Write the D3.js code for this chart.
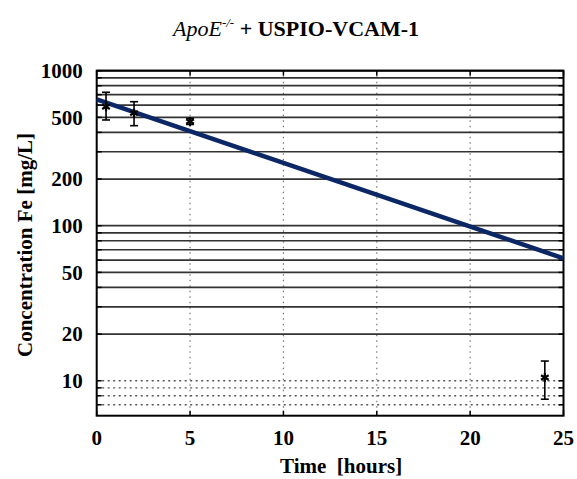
<!DOCTYPE html>
<html>
<head>
<meta charset="utf-8">
<script src="https://cdn.jsdelivr.net/npm/d3@7"></script>
<style>
  body { margin: 0; background: #fff; }
  text { font-family: "Liberation Serif", "Times New Roman", serif; }
</style>
</head>
<body>
<svg id="drawing_region"></svg>
<script>
// measured samples (time in hours, Fe concentration in mg/L)
const sampleTimes = [0.5, 2, 5, 24];
const sampleMeans = [585, 533, 470, 10.5];
const sampleLow   = [481, 442, 450, 7.6];
const sampleHigh  = [726, 631, 492, 13.4];

// fitted mono-exponential decay, end points
const fitTimes  = [0, 25];
const fitValues = [654, 61.6];

const xTicks = [0, 5, 10, 15, 20, 25];
const yTickLabels = [10, 20, 50, 100, 200, 500, 1000];
const solidGrid = [20, 30, 40, 50, 60, 70, 80, 90, 100, 200, 300, 400, 500, 600, 700, 800, 900, 1000];
const dottedGrid = [7, 8, 9, 10];
const xGrid = [5, 10, 15, 20];

class DecayPlot {
  constructor( config ) {
    this.config = config;
    this.init();
  }

  init() {
    let self = this;
    const m = self.config.margin;

    self.svg = d3.select( self.config.parent )
        .attr('width', self.config.width)
        .attr('height', self.config.height);

    self.inner_width = self.config.width - m.left - m.right;
    self.inner_height = self.config.height - m.top - m.bottom;

    self.chart = self.svg.append('g')
        .attr('transform', `translate(${m.left}, ${m.top})`);

    self.xscale = d3.scaleLinear()
        .domain([0, 25])
        .range([0, self.inner_width]);

    self.yscale = d3.scaleLog()
        .domain([5.95, 1000])
        .range([self.inner_height, 0]);
  }

  render() {
    let self = this;
    const W = self.inner_width, H = self.inner_height;
    const x = self.xscale, y = self.yscale;

    // vertical dotted grid
    self.chart.append('g').selectAll('line')
        .data(xGrid).join('line')
        .attr('x1', d => x(d)).attr('x2', d => x(d))
        .attr('y1', 0).attr('y2', H)
        .attr('stroke', '#777').attr('stroke-width', 1.2)
        .attr('stroke-dasharray', '1.5,4');

    // horizontal grid
    self.chart.append('g').selectAll('line')
        .data(solidGrid).join('line')
        .attr('x1', 0).attr('x2', W)
        .attr('y1', d => y(d)).attr('y2', d => y(d))
        .attr('stroke', '#333').attr('stroke-width', 1.7);

    self.chart.append('g').selectAll('line')
        .data(dottedGrid).join('line')
        .attr('x1', 0).attr('x2', W)
        .attr('y1', d => y(d)).attr('y2', d => y(d))
        .attr('stroke', '#555').attr('stroke-width', 1.3)
        .attr('stroke-dasharray', '2,3.5');

    // inner ticks on all four sides
    const allY = dottedGrid.concat(solidGrid);
    const tk = 5;
    const ticks = self.chart.append('g').attr('stroke', '#000').attr('stroke-width', 1.5);
    ticks.selectAll('.tl').data(allY).join('line')
        .attr('x1', 0).attr('x2', tk).attr('y1', d => y(d)).attr('y2', d => y(d));
    ticks.selectAll('.tr').data(allY).join('line')
        .attr('x1', W - tk).attr('x2', W).attr('y1', d => y(d)).attr('y2', d => y(d));
    ticks.selectAll('.tb').data(xTicks).join('line')
        .attr('x1', d => x(d)).attr('x2', d => x(d)).attr('y1', H).attr('y2', H - tk);
    ticks.selectAll('.tt').data(xTicks).join('line')
        .attr('x1', d => x(d)).attr('x2', d => x(d)).attr('y1', 0).attr('y2', tk);

    // frame
    self.chart.append('rect')
        .attr('width', W).attr('height', H)
        .attr('fill', 'none').attr('stroke', '#000').attr('stroke-width', 2);

    // fitted line
    const fit = fitTimes.map((t, i) => ({ t: t, v: fitValues[i] }));
    self.chart.append('path')
        .datum(fit)
        .attr('fill', 'none')
        .attr('stroke', '#0b2766')
        .attr('stroke-width', 4.5)
        .attr('d', d3.line().x(d => x(d.t)).y(d => y(d.v)));

    // error bars
    const pts = sampleTimes.map((t, i) => ({
      t: t, v: sampleMeans[i], lo: sampleLow[i], hi: sampleHigh[i]
    }));
    const cap = 4;
    const eb = self.chart.append('g').attr('stroke', '#000').attr('stroke-width', 1.6);
    eb.selectAll('.v').data(pts).join('line')
        .attr('x1', d => x(d.t)).attr('x2', d => x(d.t))
        .attr('y1', d => y(d.lo)).attr('y2', d => y(d.hi));
    eb.selectAll('.ch').data(pts).join('line')
        .attr('x1', d => x(d.t) - cap).attr('x2', d => x(d.t) + cap)
        .attr('y1', d => y(d.hi)).attr('y2', d => y(d.hi));
    eb.selectAll('.cl').data(pts).join('line')
        .attr('x1', d => x(d.t) - cap).attr('x2', d => x(d.t) + cap)
        .attr('y1', d => y(d.lo)).attr('y2', d => y(d.lo));

    self.chart.append('g').selectAll('path')
        .data(pts).join('path')
        .attr('transform', d => `translate(${x(d.t)}, ${y(d.v)})`)
        .attr('d', d3.symbol(d3.symbolAsterisk).size(55))
        .attr('fill', 'none').attr('stroke', '#000').attr('stroke-width', 2.2);

    // tick labels
    self.chart.append('g').selectAll('text')
        .data(yTickLabels).join('text')
        .attr('x', -14).attr('y', d => y(d))
        .attr('dy', '0.35em')
        .attr('text-anchor', 'end')
        .attr('font-size', 21).attr('font-weight', 'bold')
        .text(d => d);

    self.chart.append('g').selectAll('text')
        .data(xTicks).join('text')
        .attr('x', d => x(d)).attr('y', H + 29)
        .attr('text-anchor', 'middle')
        .attr('font-size', 21).attr('font-weight', 'bold')
        .text(d => d);

    // axis labels
    self.chart.append('text')
        .attr('x', W / 2 + 11).attr('y', H + 57)
        .attr('text-anchor', 'middle')
        .attr('font-size', 21).attr('font-weight', 'bold')
        .attr('xml:space', 'preserve')
        .text('Time  [hours]');

    self.svg.append('text')
        .attr('transform', `translate(32, 245) rotate(-90)`)
        .attr('text-anchor', 'middle')
        .attr('font-size', 21).attr('font-weight', 'bold')
        .text('Concentration Fe [mg/L]');

    // title
    const title = self.svg.append('text')
        .attr('x', 296).attr('y', 36)
        .attr('text-anchor', 'middle')
        .attr('font-size', 22);
    title.append('tspan').attr('font-style', 'italic').text('ApoE');
    title.append('tspan').attr('font-style', 'italic').attr('font-size', 13)
        .attr('dy', -9).text('-/-');
    title.append('tspan').attr('dy', 9).attr('font-weight', 'bold').text(' + USPIO-VCAM-1');
  }
}

const plot = new DecayPlot({
  parent: '#drawing_region',
  width: 577,
  height: 479,
  margin: { top: 70.7, right: 13.5, bottom: 63.3, left: 96.7 }
});
plot.render();
</script>
</body>
</html>
